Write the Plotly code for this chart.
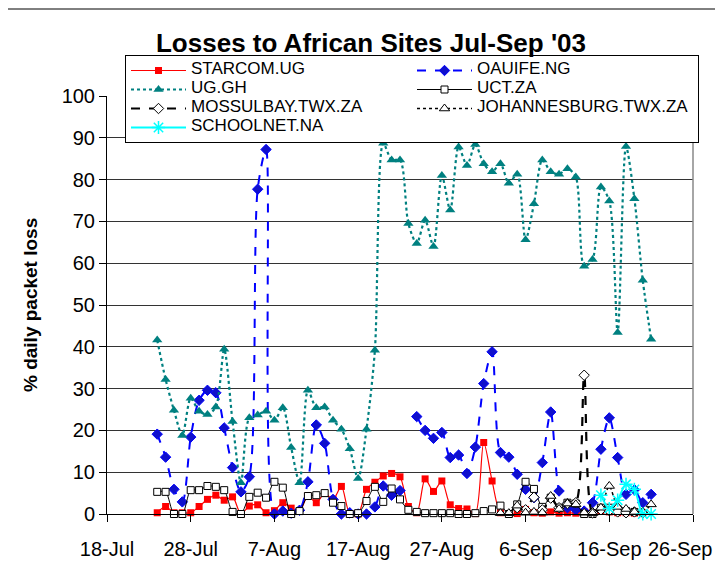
import plotly.graph_objects as go
import pandas as pd

# ---- data ----
tick_dates = ["2003-07-18", "2003-07-28", "2003-08-07", "2003-08-17",
              "2003-08-27", "2003-09-06", "2003-09-16", "2003-09-26"]
tick_labels = ["18-Jul", "28-Jul", "7-Aug", "17-Aug", "27-Aug", "6-Sep", "16-Sep", "26-Sep"]

starcom_start = "2003-07-24"
starcom_ug = [0.3, 1.8, 0.3, 0.3, 0.3, 1.8, 3.5, 4.5, 3.3, 4.1,
              0.0, 1.9, 2.2, 0.3, 0.8, 2.7, 1.4, 0.6, 4.3, 2.7,
              4.9, 3.5, 6.6, 0.1, 0.0, 5.9, 7.6, 9.1, 9.7, 8.9,
              1.8, 0.3, 8.4, 5.4, 7.9, 2.2, 1.3, 1.2, 0.1, 17.1,
              7.9, 0.3, 0.0, 0.1, 1.1, 0.3, 0.2, 0.5, 0.2, 0.3,
              0.2, 0.5, 0.3, 0.8, 0.5, 0.3, 0.3, 0.2, 0.2]

oauife_start = "2003-07-24"
oauife_ng = [19.1, 13.6, 5.9, 2.9, 18.4, 27.2, 29.6, 29.0, 20.6, 11.1,
             5.3, 8.9, 77.7, 87.2, 0.0, 0.7, 0.2, 0.9, 7.7, 21.3,
             16.9, 3.5, 0.0, 0.3, 0.0, 0.0, 1.7, 6.7, 4.5, 5.6,
             None, 23.3, 20.0, 18.1, 19.5, 13.5, 14.1, 9.7, 16.0, 31.2,
             38.8, 14.7, 13.6, 9.5, 5.9, 3.9, 12.3, 24.4, 5.5, 1.5,
             1.0, 0.7, 2.7, 15.5, 23.0, 13.5, 4.7, 5.8, 2.7, 4.7]

uggh_start = "2003-07-24"
ug_gh = [41.6, 32.2, 24.8, 18.8, 27.7, 24.6, 23.8, 25.6, 39.4, 22.1,
         7.5, 23.0, 23.7, 24.6, 22.4, 25.4, 15.9, 7.5, 29.6, 25.4,
         25.6, 22.4, 20.3, 15.6, 8.5, 20.3, 39.2, 88.7, 84.7, 84.7,
         69.5, 64.7, 70.3, 64.0, 81.0, 72.7, 87.8, 83.4, 88.4, 83.8,
         81.9, 83.8, 79.1, 81.3, 65.6, 74.2, 84.7, 81.9, 81.3, 82.6,
         80.6, 59.3, 60.9, 78.2, 74.9, 43.4, 87.9, 75.4, 55.9, 41.8]

uct_start = "2003-07-24"
uct_za = [5.3, 5.3, 0.0, 0.0, 5.7, 5.7, 6.7, 6.5, 5.7, 0.5,
          0.0, 4.1, 5.1, 3.9, 7.7, 6.3, 0.0, 0.7, 4.3, 4.5,
          5.0, 2.7, 1.9, 0.0, 0.2, 3.1, 6.5, 2.9, 6.1, 3.5,
          1.0, 0.5, 0.2, 0.2, 0.2, 0.2, 0.0, 0.0, 0.2, 0.7,
          1.1, 2.0, 0.0, 2.3, 7.7, 6.0, 1.7, 3.9, 1.5, 2.7,
          2.5, 0.0, 0.0, 1.5, 1.5, 1.1, 0.7, 0.5]

mossel_start = "2003-09-05"
mossulbay = [1.5, 1.0, 4.0, 1.0, 3.8, 1.5, 2.5, 2.7, 33.2, 0.3,
             1.0, 0.8, 0.5, 0.3, 0.5, 0.3]

joburg_start = "2003-09-03"
johannesburg = [0.2, 0.2, 2.0, 0.3, 0.5, 0.3, 4.3, 1.2, 2.5, 2.3,
                0.3, 0.2, 1.5, 6.7, 1.7, 1.2, 0.5, 0.5, 2.3]

school_start = "2003-09-15"
schoolnet = [4.5, 1.3, 3.3, 7.1, 5.9, 0.0, 0.0]


def days(start, vals):
    return pd.date_range(start, periods=len(vals), freq="D")


FONT = "Liberation Sans, Arial, sans-serif"

series = [
    ("STARCOM.UG", starcom_start, starcom_ug,
     dict(color="#FF0000", width=1.2, dash="solid"),
     dict(symbol="square", size=7, color="#FF0000", line=dict(width=0))),
    ("OAUIFE.NG", oauife_start, oauife_ng,
     dict(color="#0000FF", width=2, dash="dash"),
     dict(symbol="diamond", size=8, color="#1010CC", line=dict(color="#0000FF", width=1))),
    ("UG.GH", uggh_start, ug_gh,
     dict(color="#008080", width=2.2, dash="dot"),
     dict(symbol="triangle-up", size=9, color="#008080", line=dict(width=0))),
    ("UCT.ZA", uct_start, uct_za,
     dict(color="#000000", width=1, dash="solid"),
     dict(symbol="square", size=7, color="white", line=dict(color="#000000", width=1))),
    ("MOSSULBAY.TWX.ZA", mossel_start, mossulbay,
     dict(color="#000000", width=2.2, dash="dash"),
     dict(symbol="diamond", size=8, color="white", line=dict(color="#000000", width=1))),
    ("JOHANNESBURG.TWX.ZA", joburg_start, johannesburg,
     dict(color="#000000", width=1.5, dash="dot"),
     dict(symbol="triangle-up", size=9, color="white", line=dict(color="#000000", width=1))),
    ("SCHOOLNET.NA", school_start, schoolnet,
     dict(color="#00FFFF", width=2, dash="solid"),
     dict(symbol="asterisk-open", size=11, color="#00FFFF", line=dict(color="#00FFFF", width=1.5))),
]

fig = go.Figure()
for name, start, vals, line, marker in series:
    fig.add_trace(go.Scatter(
        x=days(start, vals), y=vals, name='<span style="font-size:17px">' + name + '</span>',
        mode="lines+markers", line=dict(shape="spline", smoothing=0.8, **line),
        marker=marker, connectgaps=False, cliponaxis=False,
    ))

# the page body adds an 8px offset, so figure coords = screen coords - 8
OFF = 8
W, H = 723 - OFF, 572 - OFF
L, T = 107 - OFF, 96 - OFF
R = W - (693 - OFF)
B = H - (514 - OFF)
pw, ph = W - L - R, H - T - B


def px_x(sx):  # screen x -> paper x
    return (sx - OFF - L) / pw


def px_y(sy):  # screen y -> paper y
    return (H - B - (sy - OFF)) / ph


# the last tick label sits at the page edge; it is drawn right-aligned so it stays visible
axis_ticktext = tick_labels[:-1] + [""]

fig.update_layout(
    width=W, height=H,
    margin=dict(l=L, r=R, t=T, b=B, autoexpand=False),
    paper_bgcolor="white", plot_bgcolor="white",
    font=dict(family=FONT, size=20, color="black"),
    title=dict(text="<b>Losses to African Sites Jul-Sep '03</b>",
               x=(371 - OFF) / W, xanchor="center", y=1 - (43 - OFF) / H, yanchor="middle",
               font=dict(family=FONT, size=26, color="black")),
    showlegend=True,
    legend=dict(orientation="h", x=px_x(125), y=px_y(55),
                xanchor="left", yanchor="top",
                bgcolor="white", bordercolor="black", borderwidth=1,
                font=dict(family=FONT, size=10, color="black"),
                itemwidth=55, entrywidth=216, entrywidthmode="pixels",
                traceorder="normal", itemsizing="trace"),
    xaxis=dict(type="date", range=["2003-07-18", "2003-09-26"],
               tickvals=tick_dates, ticktext=axis_ticktext,
               showgrid=False, zeroline=False, automargin=False,
               showline=True, linecolor="black", linewidth=1,
               ticks="outside", ticklen=7, tickcolor="black",
               ticklabelstandoff=10,
               tickfont=dict(family=FONT, size=20, color="black")),
    yaxis=dict(range=[0, 100], dtick=10, tick0=0, automargin=False,
               showgrid=True, gridcolor="#333333", gridwidth=1,
               zeroline=False,
               showline=True, linecolor="black", linewidth=1,
               ticks="outside", ticklen=7, tickcolor="black",
               tickfont=dict(family=FONT, size=20, color="black")),
    annotations=[
        dict(text="<b>% daily packet loss</b>", xref="paper", yref="paper",
             x=px_x(30), y=px_y(305), xanchor="center", yanchor="middle",
             textangle=-90, showarrow=False,
             font=dict(family=FONT, size=19, color="black")),
        dict(text=tick_labels[-1], xref="paper", yref="paper",
             x=px_x(714), y=px_y(549), xanchor="right", yanchor="middle",
             showarrow=False, borderpad=0,
             font=dict(family=FONT, size=20, color="black")),
    ],
    shapes=[
        dict(type="rect", xref="paper", yref="paper",
             x0=px_x(7), x1=px_x(760), y0=px_y(600), y1=px_y(9),
             line=dict(color="black", width=1), layer="below"),
        dict(type="line", xref="paper", yref="paper", x0=1, x1=1, y0=0, y1=1,
             line=dict(color="#888888", width=1.5)),
    ],
)

fig.write_html("out.html")
